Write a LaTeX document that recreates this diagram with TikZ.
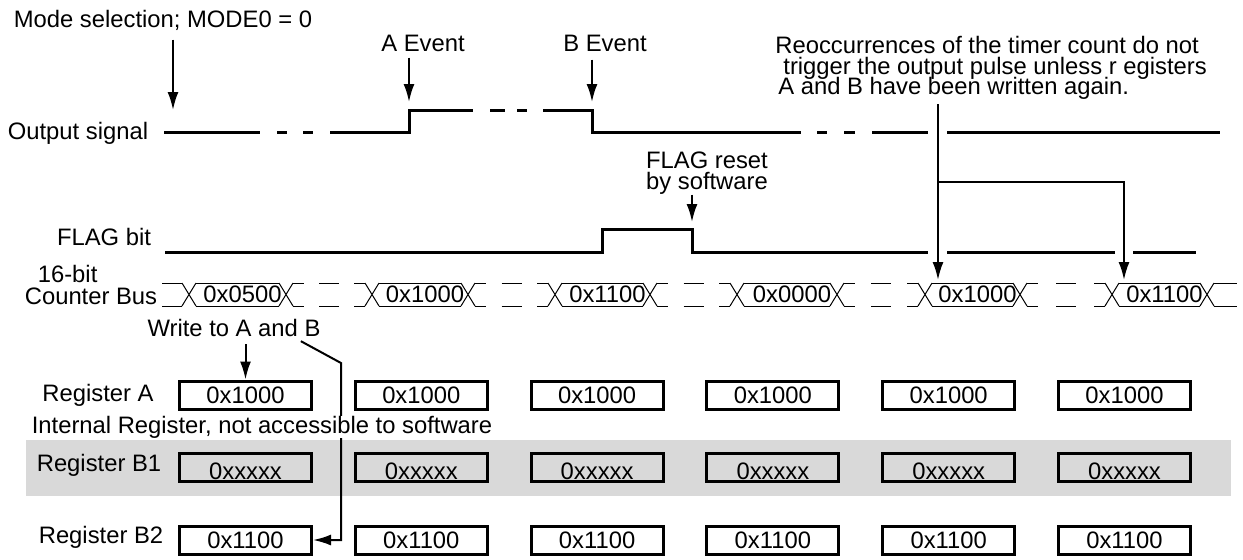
\documentclass[tikz,border=0pt]{standalone}
\usepackage{fontspec}
\setmainfont{Liberation Sans}
\usetikzlibrary{arrows.meta}
\newcommand{\tightskip}{\lineskiplimit-20pt\relax}

\begin{document}
\begin{tikzpicture}[x=0.5pt,y=-0.5pt,
        font={\fontsize{11.9}{11}\selectfont\tightskip},
        every node/.style={inner sep=0pt},
        sig/.style={line width=1.5pt},
        bus/.style={line width=0.5pt},
        pointer/.style={line width=1pt,-{Latex[length=9pt,width=5.5pt]}},
        reg/.style={draw,line width=1.5pt,minimum width=66pt,minimum height=14pt}]
        \useasboundingbox (0,0) rectangle (1243,559);
        \fill[black!15] (26,440) rectangle (1231,496);

        % labels
        \node (mode) at (163,20) {Mode selection; MODE0 = 0};
        \node (aevt) at (423,43) {A Event};
        \node (bevt) at (605,43) {B Event};
        \node[anchor=north west,align=left,font={\fontsize{11.9}{10.3}\selectfont\tightskip}] (note) at (775,36)
            {Reoccurrences of the timer count do not\\\hspace*{4pt}trigger the output pulse unless r egisters\\\hspace*{1.5pt}A and B have been written again.};
        \node (outsig) at (78,133) {Output signal};
        \node[align=center,font={\fontsize{11.9}{10.5}\selectfont\tightskip}] (flagrst) at (707,173) {FLAG reset\\by software};
        \node (flagbit) at (104,237) {FLAG bit};
        \node[align=left] (buslbl) at (91,285) {\hspace*{6.5pt}16-bit\\Counter Bus};
        \node (write) at (234,328) {Write to A and B};
        \node (rega) at (98,395) {Register A};
        \node (regbone) at (99,465) {Register B1};
        \node (regbtwo) at (101,537) {Register B2};

        % output signal
        \draw[sig] (164,132) -- (260,132);
        \draw[sig] (330,132) -- (409,132) -- (409,110) -- (473,110);
        \draw[sig] (543,110) -- (592,110) -- (592,132) -- (801,132);
        \draw[sig] (872,132) -- (928,132);
        \draw[sig] (947,132) -- (1220,132);
        \foreach \a/\b/\y in {277/287/132,303/313/132,490/505/110,517/527/110,817/827/132,844/855/132}
            \draw[sig] (\a,\y) -- (\b,\y);

        % FLAG bit
        \draw[sig] (165,252) -- (602,252) -- (602,229) -- (692,229) -- (692,252) -- (928,252);
        \draw[sig] (947,252) -- (1115,252);
        \draw[sig] (1133,252) -- (1196,252);

        % counter bus
        \draw[bus] (162,283) -- (182,283) (162,306) -- (182,306);
        \foreach \l/\r/\v [count=\i] in {189/286/0x0500,372/468/0x1000,555/650/0x1100,737/837/0x0000,925/1020/0x1000,1112/1207/0x1100} {
            \draw[bus] (\l-7,283) -- (\l+7,306) (\l-7,306) -- (\l+7,283);
            \draw[bus] (\r-7,283) -- (\r+7,306) (\r-7,306) -- (\r+7,283);
            \draw[bus] (\l+7,283) -- (\r-7,283) (\l+7,306) -- (\r-7,306);
            \node (v\i) at ({(\l+\r)/2+5},294.5) {\v};
        }
        \foreach \r/\l in {286/372,468/555,650/737,837/925,1020/1112} {
            \pgfmathsetmacro{\m}{(\r+\l)/2}
            \foreach \y in {283,306} {
                \draw[bus] (\r+7,\y) -- (\r+18,\y);
                \draw[bus] (\m-10,\y) -- (\m+10,\y);
                \draw[bus] (\l-18,\y) -- (\l-7,\y);
            }
        }
        \draw[bus] (1214,283) -- (1237,283) (1214,306) -- (1237,306);

        % registers
        \foreach \i in {0,...,5} {
            \pgfmathsetmacro{\x}{245.5+175.8*\i}
            \node[reg] (a\i) at (\x,395) {0x1000};
            \node[reg,text height=12.4pt,text depth=0pt] (p\i) at (\x,467.5) {0xxxxx};
            \node[reg] (q\i) at (\x,540) {0x1100};
        }

        % pointers
        \coordinate (modetip) at (173,110);
        \coordinate (atip) at (409,102);
        \coordinate (btip) at (592,102);
        \coordinate (flagtip) at (692,222);
        \coordinate (tipone) at (938,280);
        \coordinate (tiptwo) at (1124,280);
        \coordinate (split) at (938,182);
        \coordinate (bend) at (341,363);
        \draw[pointer] (modetip |- mode.south) ++(0,9) -- (modetip);
        \draw[pointer] (atip |- aevt.south) ++(0,6) -- (atip);
        \draw[pointer] (btip |- bevt.south) ++(0,8) -- (btip);
        \draw[pointer] (flagtip |- flagrst.south) -- (flagtip);
        \draw[pointer] (tipone |- note.south) ++(0,4) -- (tipone);
        \draw[pointer] (split) -| (tiptwo);
        \draw[pointer] (a0.north |- write.south) ++(0,7) -- (a0.north);
        \draw[pointer] ([xshift=-10pt,yshift=-2pt]write.south east) -- (bend) -- (bend |- q0.east) -- (q0.east);

        \node[fill=white] (internal) at (262,427) {Internal Register, not accessible to software};
    \end{tikzpicture}
\end{document}
